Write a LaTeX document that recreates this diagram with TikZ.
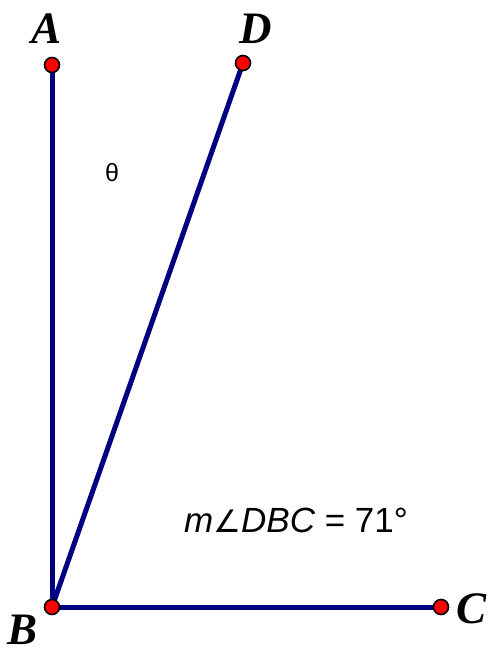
\documentclass[tikz,border=0pt]{standalone}
\usepackage{fontspec}
\setmainfont{Liberation Serif}
\newfontfamily\arialf{Liberation Sans}
\newfontfamily\dvs{DejaVu Sans}
\definecolor{seg}{RGB}{0,0,128}
\begin{document}
\begin{tikzpicture}[x=1pt,y=-1pt,
  segline/.style={draw=seg,line width=5pt},
  pt/.style={circle,fill=red,draw=black,line width=1.6pt,inner sep=0pt,minimum size=15pt},
  lbl/.style={font=\fontsize{45}{45}\selectfont\bfseries\itshape,inner sep=0pt}]
\useasboundingbox (0,0) rectangle (490,654);
\coordinate (A) at (52,65);
\coordinate (D) at (243,63);
\coordinate (B) at (52,607);
\coordinate (C) at (441,607);
\draw[segline] (A) -- (B) -- (C);
\draw[segline] (B) -- (D);
\node[pt] (pA) at (A) {};
\node[pt] (pD) at (D) {};
\node[pt] (pB) at (B) {};
\node[pt] (pC) at (C) {};
\node[lbl] (lA) at (47,29) {A};
\node[lbl] (lD) at (256,29) {D};
\node[lbl] (lB) at (23,630) {B};
\node[lbl] (lC) at (472,609) {C};
\node[font=\arialf\fontsize{25}{25}\selectfont,inner sep=0pt] (th) at (112,173) {θ};
\node[font=\arialf\fontsize{35}{35}\selectfont,inner sep=0pt,anchor=west] (m) at (184,520) {\itshape m{\dvs\upshape\fontsize{31}{31}\selectfont ∠}DBC\upshape{} = 71°};
\end{tikzpicture}
\end{document}
